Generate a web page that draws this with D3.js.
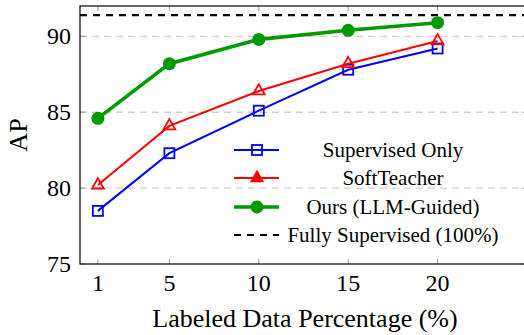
<!DOCTYPE html>
<html>
<head>
<meta charset="utf-8">
<script src="https://cdn.jsdelivr.net/npm/d3@7"></script>
<style>
  body { margin: 0; background: #fff; }
</style>
</head>
<body>
<div id="chart"></div>
<script>
// data
const xValues = [1, 5, 10, 15, 20];
const supervisedOnly = [78.5, 82.3, 85.1, 87.8, 89.2];
const softTeacher = [80.2, 84.1, 86.4, 88.2, 89.7];
const oursLLM = [84.6, 88.2, 89.8, 90.4, 90.9];
const fullySupervised = 91.4;
const yTicks = [75, 80, 85, 90];
const seriesNames = ["Supervised Only", "SoftTeacher", "Ours (LLM-Guided)", "Fully Supervised (100%)"];

const width = 524, height = 335;
const margin = { top: 6, right: -3, bottom: 71, left: 80 };
const serif = "'Liberation Serif', 'DejaVu Serif', serif";

const svg = d3.select("#chart").append("svg")
  .attr("width", width)
  .attr("height", height)
  .style("display", "block")
  .attr("font-family", serif);

const x = d3.scaleLinear().domain([0, 25]).range([margin.left, width - margin.right]);
const y = d3.scaleLinear().domain([75, 92]).range([height - margin.bottom, margin.top]);

const x0 = x.range()[0], x1 = x.range()[1];
const y0 = y.range()[0], y1 = y.range()[1];

// horizontal dashed grid
svg.append("g")
  .selectAll("line")
  .data(yTicks.filter(d => d > 75))
  .enter().append("line")
  .attr("x1", x0).attr("x2", x1)
  .attr("y1", d => y(d)).attr("y2", d => y(d))
  .attr("stroke", "#d0d0d0")
  .attr("stroke-width", 1.3)
  .attr("stroke-dasharray", "7,5");

// tick marks (inside, on all four sides)
const tickLen = 5;
const tickG = svg.append("g").attr("stroke", "#999").attr("stroke-width", 1);
xValues.forEach(v => {
  tickG.append("line").attr("x1", x(v)).attr("x2", x(v)).attr("y1", y0).attr("y2", y0 - tickLen);
  tickG.append("line").attr("x1", x(v)).attr("x2", x(v)).attr("y1", y1).attr("y2", y1 + tickLen);
});
yTicks.forEach(v => {
  tickG.append("line").attr("x1", x0).attr("x2", x0 + tickLen).attr("y1", y(v)).attr("y2", y(v));
  tickG.append("line").attr("x1", x1).attr("x2", x1 - tickLen).attr("y1", y(v)).attr("y2", y(v));
});

// frame
svg.append("rect")
  .attr("x", x0).attr("y", y1)
  .attr("width", x1 - x0).attr("height", y0 - y1)
  .attr("fill", "none")
  .attr("stroke", "#000")
  .attr("stroke-width", 1.2);

// tick labels
svg.append("g")
  .selectAll("text")
  .data(xValues)
  .enter().append("text")
  .attr("x", d => x(d))
  .attr("y", y0 + 27)
  .attr("text-anchor", "middle")
  .attr("font-size", 24)
  .text(d => d);

svg.append("g")
  .selectAll("text")
  .data(yTicks)
  .enter().append("text")
  .attr("x", x0 - 9)
  .attr("y", d => y(d) + 8)
  .attr("text-anchor", "end")
  .attr("font-size", 24)
  .text(d => d);

// axis titles
svg.append("text")
  .attr("x", 305)
  .attr("y", 327)
  .attr("text-anchor", "middle")
  .attr("font-size", 26)
  .text("Labeled Data Percentage (%)");

svg.append("text")
  .attr("transform", `translate(27, ${(y0 + y1) / 2}) rotate(-90)`)
  .attr("text-anchor", "middle")
  .attr("font-size", 26)
  .text("AP");

// fully supervised reference line
svg.append("line")
  .attr("x1", x0).attr("x2", x1)
  .attr("y1", y(fullySupervised)).attr("y2", y(fullySupervised))
  .attr("stroke", "#000")
  .attr("stroke-width", 2.2)
  .attr("stroke-dasharray", "7,6");

const line = d3.line().x((d, i) => x(xValues[i])).y(d => y(d));

function drawMarker(g, type, color, cx, cy) {
  if (type === "square") {
    g.append("rect")
      .attr("x", cx - 5).attr("y", cy - 5)
      .attr("width", 10).attr("height", 10)
      .attr("fill", "none").attr("stroke", color).attr("stroke-width", 1.8);
  } else if (type === "triangle") {
    g.append("path")
      .attr("d", d3.symbol().type(d3.symbolTriangle).size(60)())
      .attr("transform", `translate(${cx},${cy})`)
      .attr("fill", "none").attr("stroke", color).attr("stroke-width", 1.8);
  } else if (type === "triangleFilled") {
    g.append("path")
      .attr("d", d3.symbol().type(d3.symbolTriangle).size(60)())
      .attr("transform", `translate(${cx},${cy})`)
      .attr("fill", color).attr("stroke", color).attr("stroke-width", 1.5);
  } else if (type === "circle") {
    g.append("circle")
      .attr("cx", cx).attr("cy", cy).attr("r", 6.5)
      .attr("fill", color);
  }
}

const series = [
  { values: supervisedOnly, color: "#0000ff", width: 2, marker: "square", legendMarker: "square" },
  { values: softTeacher, color: "#ff0000", width: 2, marker: "triangle", legendMarker: "triangleFilled" },
  { values: oursLLM, color: "#009900", width: 3.6, marker: "circle", legendMarker: "circle" }
];

series.forEach(s => {
  const g = svg.append("g");
  g.append("path")
    .attr("d", line(s.values))
    .attr("fill", "none")
    .attr("stroke", s.color)
    .attr("stroke-width", s.width);
  s.values.forEach((v, i) => drawMarker(g, s.marker, s.color, x(xValues[i]), y(v)));
});

// legend
const legendRows = [150, 178, 207, 235];
const lg = svg.append("g");
series.forEach((s, i) => {
  const ly = legendRows[i];
  lg.append("line")
    .attr("x1", 234).attr("x2", 279)
    .attr("y1", ly).attr("y2", ly)
    .attr("stroke", s.color).attr("stroke-width", s.width);
  drawMarker(lg, s.legendMarker, s.color, 257, ly);
});
lg.append("line")
  .attr("x1", 234).attr("x2", 279)
  .attr("y1", legendRows[3]).attr("y2", legendRows[3])
  .attr("stroke", "#000").attr("stroke-width", 2.2)
  .attr("stroke-dasharray", "7,6");

lg.selectAll("text.legend")
  .data(seriesNames)
  .enter().append("text")
  .attr("class", "legend")
  .attr("x", 393)
  .attr("y", (d, i) => legendRows[i] + 7)
  .attr("text-anchor", "middle")
  .attr("font-size", 21)
  .text(d => d);
</script>
</body>
</html>
